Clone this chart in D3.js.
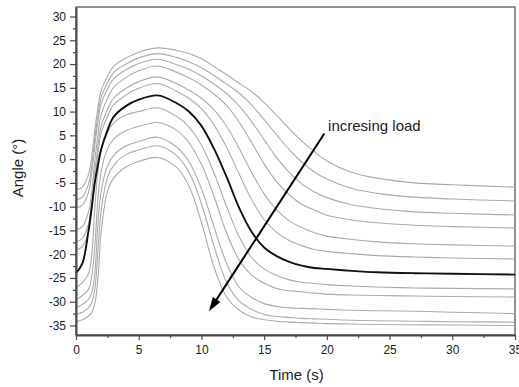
<!DOCTYPE html>
<html>
<head>
<meta charset="utf-8">
<script src="https://cdn.jsdelivr.net/npm/d3@7"></script>
<style>
  html, body { margin: 0; padding: 0; background: #fff; }
  svg { display: block; font-family: Arial, "Liberation Sans", sans-serif; }
</style>
</head>
<body>
<svg id="chart" width="519" height="387"></svg>
<script>
// Sample times (s) shared by every angle trace
const times = [0, 0.5, 1, 1.25, 1.5, 1.75, 2, 2.5, 3, 4, 5, 6.5,
               8, 9, 10, 11, 12, 13, 14, 15, 16, 17, 18, 19, 20, 22, 24, 27, 30, 35];

// Joint angle (°) for each load level, lightest load first
const load01 = [-6.5, -5.9, -3.2, 0.4, 6.1, 10.8, 14.4, 17.4, 19.5, 21.3, 22.5, 23.4,
                22.9, 22.2, 21.1, 19.5, 17.8, 16.0, 14.2, 11.9, 9.2, 6.4, 3.8, 1.6, -0.4, -2.8, -4.0, -5.0, -5.4, -5.9];
const load02 = [-8.6, -8.0, -5.2, -1.5, 4.3, 9.3, 13.0, 16.0, 18.2, 20.0, 21.3, 22.2,
                21.4, 20.5, 19.2, 17.6, 15.8, 13.9, 11.4, 8.3, 5.1, 2.0, -0.6, -2.7, -4.2, -6.2, -7.2, -8.0, -8.4, -8.8];
const load03 = [-10.3, -9.7, -6.9, -3.1, 2.8, 7.9, 11.6, 14.7, 16.9, 18.8, 20.1, 21.0,
                19.9, 18.9, 17.5, 15.8, 13.8, 11.2, 7.9, 4.1, 0.3, -2.8, -5.2, -6.9, -8.1, -9.6, -10.4, -11.1, -11.4, -11.75];
const load04 = [-14.9, -14.2, -11.1, -7.0, -0.4, 5.1, 9.3, 12.7, 15.1, 17.2, 18.6, 19.6,
                18.3, 17.1, 15.6, 13.7, 11.3, 7.8, 3.5, -1.0, -4.8, -7.5, -9.5, -10.7, -11.8, -12.8, -13.4, -13.9, -14.2, -14.5];
const load05 = [-17.4, -16.7, -13.6, -9.4, -2.8, 2.7, 6.9, 10.4, 12.8, 14.9, 16.3, 17.3,
                15.9, 14.5, 12.8, 10.4, 6.9, 2.3, -2.8, -7.3, -10.7, -13.0, -14.4, -15.5, -16.2, -16.9, -17.4, -17.8, -18.05, -18.3];
const load06 = [-19.1, -18.4, -15.3, -11.1, -4.4, 1.2, 5.4, 8.9, 11.4, 13.5, 14.9, 15.9,
                14.3, 12.8, 10.6, 7.2, 2.5, -3.1, -8.5, -12.7, -15.4, -17.1, -18.2, -19.0, -19.4, -19.9, -20.3, -20.6, -20.8, -21.0];
const load07 = [-24.0, -22.0, -15.0, -10.2, -5.0, -1.2, 2.0, 6.0, 8.9, 11.2, 12.5, 13.4,
                11.8, 10.0, 7.0, 2.2, -3.7, -10.2, -15.3, -18.6, -20.4, -21.6, -22.4, -22.9, -23.1, -23.5, -23.8, -24.0, -24.1, -24.3];
const load08 = [-27.1, -26.0, -24.1, -20.3, -10.4, -2.5, 1.7, 5.5, 7.6, 9.3, 10.0, 10.8,
                9.0, 6.8, 2.9, -2.9, -9.9, -16.3, -20.7, -23.1, -24.5, -25.4, -25.9, -26.15, -26.4, -26.7, -26.9, -27.1, -27.2, -27.3];
const load09 = [-29.6, -28.7, -27.4, -24.8, -18.4, -8.3, -2.7, 2.1, 4.2, 6.0, 6.9, 7.7,
                6.1, 3.5, -1.1, -7.8, -15.5, -21.2, -24.4, -26.1, -27.2, -27.7, -27.9, -28.2, -28.4, -28.6, -28.7, -28.8, -28.9, -29.0];
const load10 = [-31.3, -30.6, -29.5, -28.1, -24.1, -13.4, -6.9, -1.5, 0.8, 2.8, 3.7, 4.6,
                2.6, -0.5, -6.2, -14.2, -21.9, -26.9, -29.1, -30.4, -31.0, -31.3, -31.4, -31.5, -31.6, -31.8, -31.9, -32.0, -32.2, -32.5];
const load11 = [-32.7, -32.2, -31.3, -30.2, -27.4, -19.2, -11.0, -3.9, -1.3, 1.0, 1.9, 2.8,
                0.8, -2.7, -9.4, -18.3, -25.9, -29.8, -31.6, -32.7, -33.1, -33.3, -33.5, -33.6, -33.7, -33.9, -34.0, -34.1, -34.2, -34.3];
const load12 = [-34.2, -33.8, -33.0, -32.3, -30.4, -25.2, -15.5, -6.9, -4.0, -1.6, -0.5, 0.35,
                -1.7, -5.6, -13.3, -22.7, -29.0, -31.8, -33.2, -33.8, -34.1, -34.3, -34.4, -34.5, -34.6, -34.7, -34.8, -34.85, -34.9, -35.0];

const loadSeries = [load01, load02, load03, load04, load05, load06,
                    load07, load08, load09, load10, load11, load12];
const highlighted = 6;           // reference trace, drawn in black

// Axis ticks
const xMajorTicks = [0, 5, 10, 15, 20, 25, 30, 35];
const xMinorTicks = [2.5, 7.5, 12.5, 17.5, 22.5, 27.5, 32.5];
const yMajorTicks = [-35, -30, -25, -20, -15, -10, -5, 0, 5, 10, 15, 20, 25, 30];
const yMinorTicks = [-32.5, -27.5, -22.5, -17.5, -12.5, -7.5, -2.5, 2.5, 7.5, 12.5, 17.5, 22.5, 27.5];

// Annotation arrow: [time, angle] start and tip, plus its caption
const arrowFrom = [19.8, 5.4];
const arrowTo = [10.6, -32.0];
const arrowLabel = "incresing load";
const arrowLabelAt = [20.1, 6.0];

const xTitle = "Time (s)";
const yTitle = "Angle (°)";

// ---- layout ----
const svg = d3.select("#chart");
const plot = { left: 76, right: 515, top: 7, bottom: 335 };

const x = d3.scaleLinear().domain([0, 35]).range([plot.left, plot.right]);
const y = d3.scaleLinear().domain([-37, 32]).range([plot.bottom, plot.top]);

const fmt = d => String(d);

// plot frame
svg.append("rect")
  .attr("x", plot.left).attr("y", plot.top)
  .attr("width", plot.right - plot.left).attr("height", plot.bottom - plot.top)
  .attr("fill", "none").attr("stroke", "#3a3a3a").attr("stroke-width", 1.1);

// traces
const line = d3.line()
  .x((d, i) => x(times[i]))
  .y(d => y(d))
  .curve(d3.curveCatmullRom.alpha(0.5));

const traces = svg.append("g").attr("fill", "none");
loadSeries.forEach((s, i) => {
  if (i === highlighted) return;
  traces.append("path").attr("d", line(s))
    .attr("stroke", "#ababab").attr("stroke-width", 1.1);
});
traces.append("path").attr("d", line(loadSeries[highlighted]))
  .attr("stroke", "#111").attr("stroke-width", 1.9);

// axes
function styleAxis(g, width) {
  g.select(".domain").attr("stroke", "#4a4a4a").attr("stroke-width", width);
  g.selectAll(".tick line").attr("stroke", "#4a4a4a").attr("stroke-width", 1.2);
  g.selectAll(".tick text").attr("fill", "#222").style("font-size", "12px")
    .style("font-family", "Arial, 'Liberation Sans', sans-serif");
}

const xAxis = svg.append("g").attr("transform", `translate(0,${plot.bottom})`)
  .call(d3.axisBottom(x).tickValues(xMajorTicks).tickFormat(fmt).tickSize(5).tickSizeOuter(0).tickPadding(5));
styleAxis(xAxis, 2);
const xMinor = svg.append("g").attr("transform", `translate(0,${plot.bottom})`)
  .call(d3.axisBottom(x).tickValues(xMinorTicks).tickFormat("").tickSize(3).tickSizeOuter(0));
xMinor.select(".domain").remove();
xMinor.selectAll(".tick line").attr("stroke", "#4a4a4a").attr("stroke-width", 1.2);

const yAxis = svg.append("g").attr("transform", `translate(${plot.left},0)`)
  .call(d3.axisLeft(y).tickValues(yMajorTicks).tickFormat(fmt).tickSize(6).tickSizeOuter(0).tickPadding(4));
styleAxis(yAxis, 2);
const yMinor = svg.append("g").attr("transform", `translate(${plot.left},0)`)
  .call(d3.axisLeft(y).tickValues(yMinorTicks).tickFormat("").tickSize(3).tickSizeOuter(0));
yMinor.select(".domain").remove();
yMinor.selectAll(".tick line").attr("stroke", "#4a4a4a").attr("stroke-width", 1.2);

// axis titles
svg.append("text")
  .attr("x", (plot.left + plot.right) / 2 + 1).attr("y", 380)
  .attr("text-anchor", "middle").attr("fill", "#222")
  .style("font-size", "15px").text(xTitle);
svg.append("text")
  .attr("transform", `translate(23,${(plot.top + plot.bottom) / 2 - 3}) rotate(-90)`)
  .attr("text-anchor", "middle").attr("fill", "#222")
  .style("font-size", "15px").text(yTitle);

// annotation arrow
const ax0 = x(arrowFrom[0]), ay0 = y(arrowFrom[1]);
const ax1 = x(arrowTo[0]), ay1 = y(arrowTo[1]);
const ang = Math.atan2(ay1 - ay0, ax1 - ax0);
const headLen = 14, headHalf = 4.5;
const bx = ax1 - headLen * Math.cos(ang), by = ay1 - headLen * Math.sin(ang);
svg.append("line")
  .attr("x1", ax0).attr("y1", ay0).attr("x2", bx + 2 * Math.cos(ang)).attr("y2", by + 2 * Math.sin(ang))
  .attr("stroke", "#000").attr("stroke-width", 2);
svg.append("path")
  .attr("d", `M${ax1},${ay1}L${bx - headHalf * Math.sin(ang)},${by + headHalf * Math.cos(ang)}` +
             `L${bx + headHalf * Math.sin(ang)},${by - headHalf * Math.cos(ang)}Z`)
  .attr("fill", "#000");

svg.append("text")
  .attr("x", x(arrowLabelAt[0])).attr("y", y(arrowLabelAt[1]))
  .attr("fill", "#222").style("font-size", "15px").text(arrowLabel);
</script>
</body>
</html>
